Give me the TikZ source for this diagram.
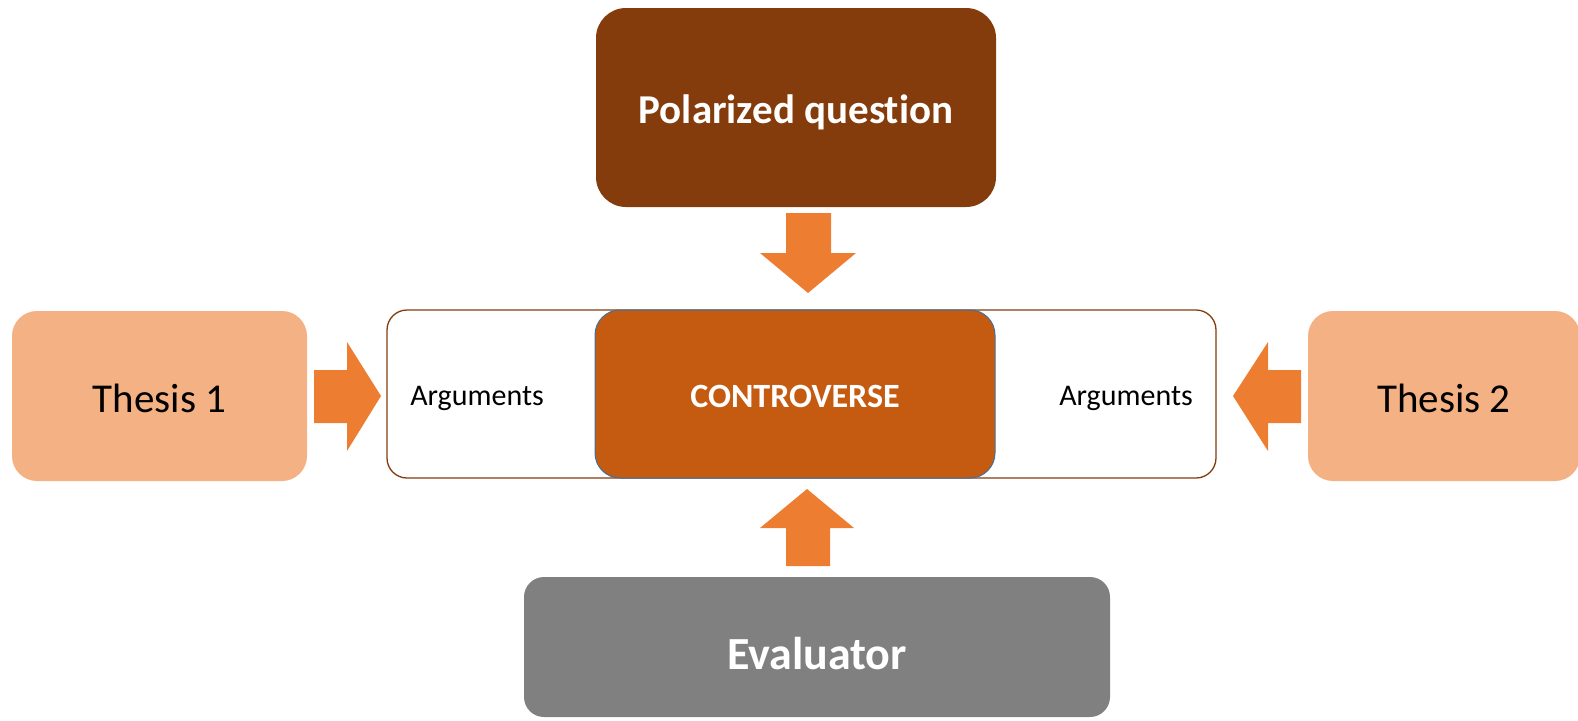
\documentclass[tikz,border=0pt]{standalone}
\usepackage{fontspec}
\setmainfont{Carlito}[Ligatures=NoCommon]
\definecolor{qbrown}{HTML}{843C0C}
\definecolor{corange}{HTML}{C55A11}
\definecolor{tpeach}{HTML}{F4B183}
\definecolor{arrorange}{HTML}{ED7D31}
\definecolor{evgray}{HTML}{808080}
\definecolor{cblue}{HTML}{41719C}
\tikzset{
  box/.style={rectangle, inner sep=0pt, align=center},
  blockarrow/.style={fill=arrorange, draw=none},
}
\begin{document}
\begin{tikzpicture}[x=1pt,y=-1pt]
\useasboundingbox (0,0) rectangle (1578,720);
% outer frame
\node[box, draw=qbrown, line width=1.3pt, fill=white, rounded corners=20pt,
      minimum width=829pt, minimum height=168pt] (outer) at (801.5,394) {};
% controverse
\node[box, draw=cblue, line width=1pt, fill=corange, rounded corners=25pt,
      minimum width=400pt, minimum height=168pt] (contr) at (795,394) {};
\node[box, text=white, font=\fontsize{34}{40}\selectfont\bfseries] (contrtxt) at (795,396) {CONTROVERSE};
\node[box, font=\fontsize{30}{36}\selectfont] (argl) at (477,398) {Arguments};
\node[box, font=\fontsize{30}{36}\selectfont] (argr) at (1126,398) {Arguments};
% polarized question
\node[box, fill=qbrown, rounded corners=30pt, minimum width=400pt, minimum height=199pt] (pq) at (796,107.5) {};
\node[box, text=white, font=\fontsize{41}{48}\selectfont\bfseries] (pqtxt) at (796,112) {Polarized question};
% theses
\node[box, fill=tpeach, rounded corners=25pt, minimum width=295pt, minimum height=170pt] (t1) at (159.5,396) {};
\node[box, font=\fontsize{41}{48}\selectfont] (t1txt) at (159.5,398) {Thesis 1};
\node[box, fill=tpeach, rounded corners=25pt, minimum width=272pt, minimum height=170pt] (t2) at (1444,396) {};
\node[box, font=\fontsize{41}{48}\selectfont] (t2txt) at (1444,398) {Thesis 2};
% evaluator
\node[box, fill=evgray, rounded corners=20pt, minimum width=586pt, minimum height=140pt] (ev) at (817,647) {};
\node[box, text=white, font=\fontsize{46}{54}\selectfont\bfseries] (evtxt) at (817,654) {Evaluator};
% block arrows
\fill[blockarrow] (786,213) -- (831,213) -- (831,253) -- (856,253) -- (808,293)
  -- (760,253) -- (786,253) -- cycle;
\fill[blockarrow] (786,566) -- (830,566) -- (830,528) -- (854,528) -- (807,489)
  -- (760,528) -- (786,528) -- cycle;
\fill[blockarrow] (314,370) -- (347,370) -- (347,342) -- (381,396) -- (347,451)
  -- (347,423) -- (314,423) -- cycle;
\fill[blockarrow] (1301,370) -- (1268,370) -- (1268,342) -- (1233,396) -- (1268,451)
  -- (1268,423) -- (1301,423) -- cycle;
\end{tikzpicture}
\end{document}
